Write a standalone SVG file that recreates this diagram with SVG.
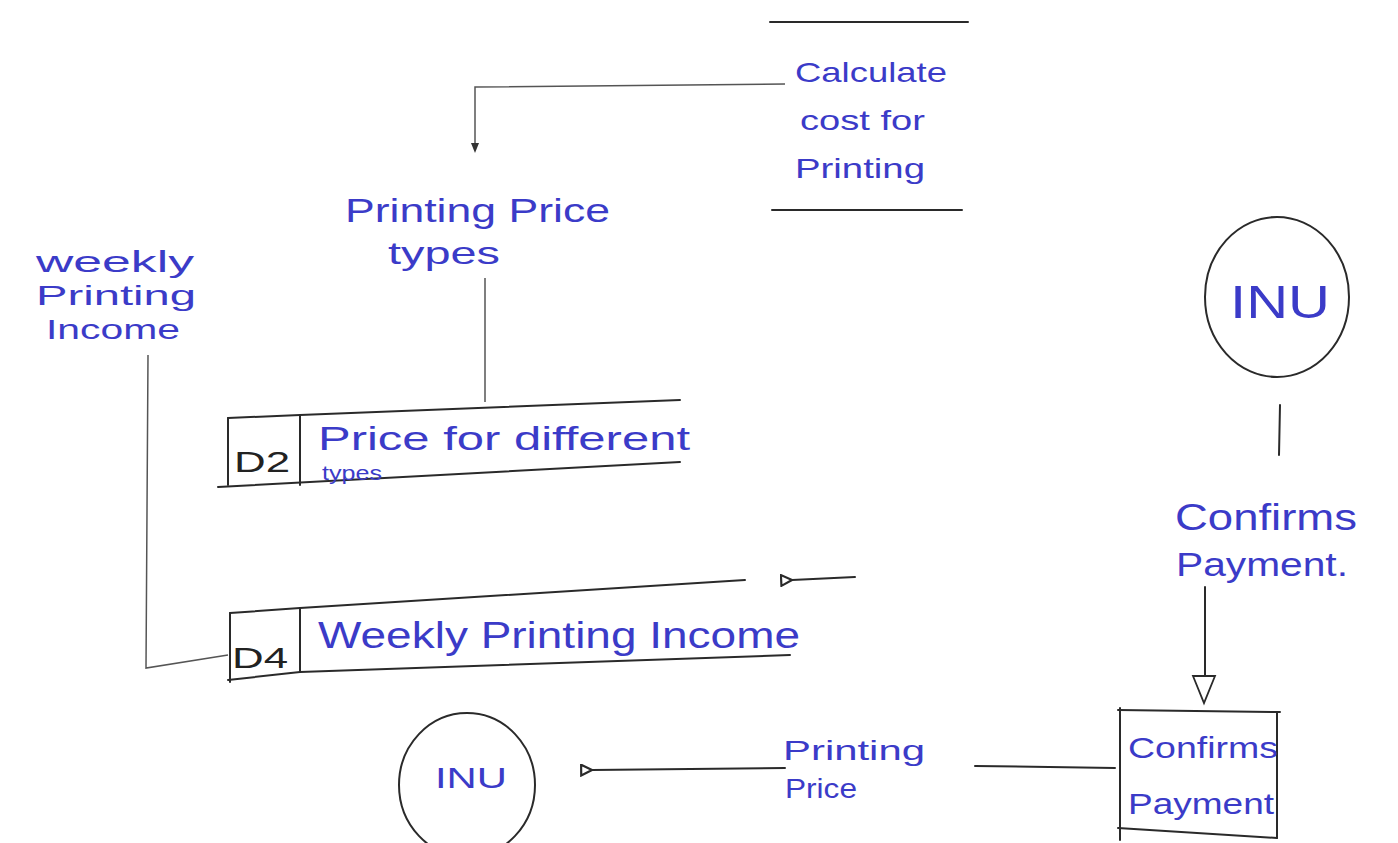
<svg xmlns="http://www.w3.org/2000/svg" width="1398" height="843" viewBox="0 0 1398 843">
<style>
.ln{fill:none;stroke:#2a2a2a;stroke-width:2;stroke-linecap:round}
.thin{fill:none;stroke:#555;stroke-width:1.5}
.t{font-family:"Liberation Sans",Arial,sans-serif;fill:#3b3bc8}
.k{font-family:"Liberation Sans",Arial,sans-serif;fill:#222}
</style>
<defs>
<marker id="ah" viewBox="0 0 12 12" refX="1" refY="6" markerWidth="13" markerHeight="13" orient="auto-start-reverse" markerUnits="userSpaceOnUse">
<path d="M11,1 L1,6 L11,11 Z" fill="none" stroke="#2a2a2a" stroke-width="2"/>
</marker>
</defs>
<rect width="1398" height="843" fill="#fff"/>

<g id="connectors">
<path class="thin" d="M785,84 L475,87 L475,150"/>
<path d="M471,143 L475,153 L479,143" fill="#333" stroke="none"/>
<path class="thin" d="M485,278 L485,402"/>
<path class="thin" d="M148,355 L146,668 L228,655"/>
<path class="ln" d="M855,577 L792,580" marker-end="url(#ah)"/>
<path class="ln" d="M1280,405 L1279,455"/>
<path class="ln" d="M1205,587 L1205,675"/>
<path d="M1193,676 L1215,676 L1204,703 Z" fill="#fff" stroke="#2a2a2a" stroke-width="1.8"/>
<path class="ln" d="M1115,768 L975,766"/>
<path class="ln" d="M785,768 L592,770" marker-end="url(#ah)"/>
</g>

<g id="lbl-printing-price-types">
<text class="t" x="345" y="222" font-size="34" textLength="265" lengthAdjust="spacingAndGlyphs">Printing Price</text>
<text class="t" x="388" y="264" font-size="32" textLength="112" lengthAdjust="spacingAndGlyphs">types</text>
</g>
<g id="lbl-weekly-income">
<text class="t" x="36" y="272" font-size="29" textLength="158" lengthAdjust="spacingAndGlyphs">weekly</text>
<text class="t" x="36" y="305" font-size="28" textLength="160" lengthAdjust="spacingAndGlyphs">Printing</text>
<text class="t" x="46" y="339" font-size="28" textLength="134" lengthAdjust="spacingAndGlyphs">Income</text>
</g>
<g id="lbl-confirms-payment">
<text class="t" x="1175" y="530" font-size="36" textLength="182" lengthAdjust="spacingAndGlyphs">Confirms</text>
<text class="t" x="1176" y="576" font-size="34" textLength="172" lengthAdjust="spacingAndGlyphs">Payment.</text>
</g>
<g id="lbl-printing-price">
<text class="t" x="783" y="760" font-size="28" textLength="142" lengthAdjust="spacingAndGlyphs">Printing</text>
<text class="t" x="785" y="798" font-size="28" textLength="72" lengthAdjust="spacingAndGlyphs">Price</text>
</g>

<g id="process-calc">
<path class="ln" d="M770,22 L968,22"/>
<path class="ln" d="M772,210 L962,210"/>
<text class="t" x="795" y="82" font-size="28" textLength="152" lengthAdjust="spacingAndGlyphs">Calculate</text>
<text class="t" x="800" y="130" font-size="28" textLength="125" lengthAdjust="spacingAndGlyphs">cost for</text>
<text class="t" x="795" y="178" font-size="28" textLength="130" lengthAdjust="spacingAndGlyphs">Printing</text>
</g>

<g id="store-d2">
<path class="ln" d="M228,418 L300,415 L680,400"/>
<path class="ln" d="M218,487 L680,462"/>
<path class="ln" d="M228,418 L228,485"/>
<path class="ln" d="M300,415 L300,485"/>
<text class="k" x="234" y="472" font-size="30" textLength="56" lengthAdjust="spacingAndGlyphs">D2</text>
<text class="t" x="318" y="450" font-size="34" textLength="372" lengthAdjust="spacingAndGlyphs">Price for different</text>
<text class="t" x="322" y="480" font-size="20" textLength="60" lengthAdjust="spacingAndGlyphs">types</text>
</g>

<g id="store-d4">
<path class="ln" d="M230,613 L300,608 L745,580"/>
<path class="ln" d="M228,680 L300,672 L790,655"/>
<path class="ln" d="M230,613 L230,682"/>
<path class="ln" d="M300,608 L300,672"/>
<text class="k" x="232" y="668" font-size="30" textLength="56" lengthAdjust="spacingAndGlyphs">D4</text>
<text class="t" x="318" y="648" font-size="36" textLength="482" lengthAdjust="spacingAndGlyphs">Weekly Printing Income</text>
</g>

<g id="entity-inu-top">
<ellipse class="ln" cx="1277" cy="297" rx="72" ry="80"/>
<text class="t" x="1280" y="318" font-size="46" text-anchor="middle" textLength="100" lengthAdjust="spacingAndGlyphs">INU</text>
</g>

<g id="entity-inu-bottom">
<ellipse class="ln" cx="467" cy="785" rx="68" ry="72"/>
<text class="t" x="435" y="788" font-size="30" textLength="72" lengthAdjust="spacingAndGlyphs">INU</text>
</g>

<g id="process-confirm">
<path class="ln" d="M1118,710 L1280,712"/>
<path class="ln" d="M1120,708 L1120,840"/>
<path class="ln" d="M1277,712 L1277,838"/>
<path class="ln" d="M1118,828 L1277,838"/>
<text class="t" x="1128" y="758" font-size="30" textLength="150" lengthAdjust="spacingAndGlyphs">Confirms</text>
<text class="t" x="1128" y="814" font-size="30" textLength="146" lengthAdjust="spacingAndGlyphs">Payment</text>
</g>
</svg>
